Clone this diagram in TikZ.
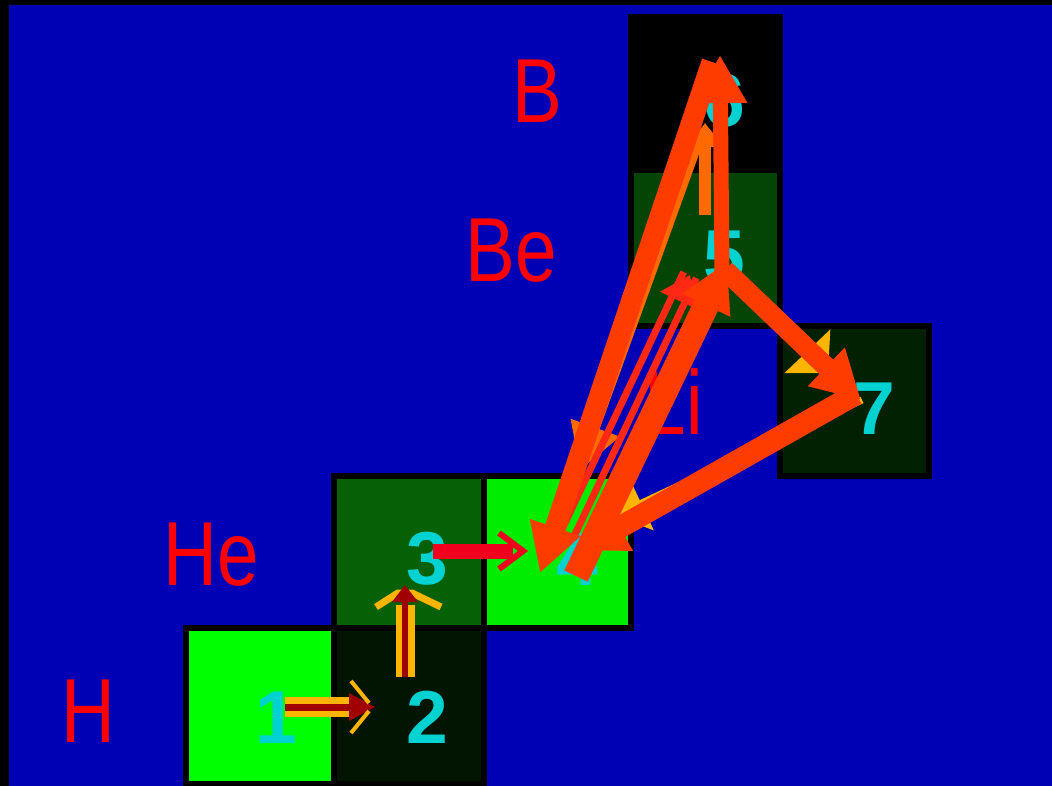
\documentclass[tikz,border=0pt]{standalone}
\usepackage{fontspec}
\setmainfont{Liberation Sans}
\usetikzlibrary{arrows.meta,calc}
\definecolor{bg}{HTML}{0000B4}
\definecolor{gbright}{HTML}{00FF00}
\definecolor{gbrighttwo}{HTML}{00EC00}
\definecolor{gdark}{HTML}{021402}
\definecolor{gmid}{HTML}{066006}
\definecolor{gbe}{HTML}{044404}
\definecolor{gseven}{HTML}{022002}
\definecolor{cyanc}{HTML}{00D2D2}
\definecolor{redl}{HTML}{FF0000}
\definecolor{bigarrow}{HTML}{FF3C00}
\definecolor{yel}{HTML}{FFB400}
\definecolor{dred}{HTML}{A00000}
\definecolor{orng}{HTML}{FF6A00}
\definecolor{redst}{HTML}{FF2814}
\definecolor{redar}{HTML}{F0001C}
\begin{document}
\begin{tikzpicture}[x=1pt,y=-1pt,
  cell/.style={draw=black, line width=6pt, inner sep=0pt, outer sep=0pt},
  elem/.style={text=redl, font=\fontsize{91}{91}\selectfont, anchor=base, inner sep=0pt, xscale=0.82},
  num/.style={text=cyanc, font=\bfseries\fontsize{75}{75}\selectfont, anchor=base, inner sep=0pt},
  big/.style={draw=bigarrow, -{Triangle[length=48pt,width=50pt]}},
  stair/.style={line width=7pt},
]
\useasboundingbox (0,0) rectangle (1052,786);
\fill[black] (0,0) rectangle (1052,786);
\fill[bg] (9,5) rectangle (1052,786);

% cells
\node[fill=black, minimum width=155pt, minimum height=159pt, inner sep=0pt] (c6) at (705.5,93.5) {};
\node[cell, fill=gbe, minimum width=149pt, minimum height=155.5pt] (c5) at (705.5,247.75) {};
\node[cell, fill=gseven, minimum width=149pt, minimum height=149.5pt] (c7) at (854.5,400.75) {};
\node[cell, fill=gbright, minimum width=148pt, minimum height=155.5pt] (c1) at (259.5,705.75) {};
\node[cell, fill=gdark, minimum width=150pt, minimum height=155.5pt] (c2) at (408.5,705.75) {};
\node[cell, fill=gmid, minimum width=150pt, minimum height=152pt] (c3) at (408.5,551.5) {};
\node[cell, fill=gbrighttwo, minimum width=147pt, minimum height=152pt] (c4) at (557,551.5) {};

% element labels
\node[elem] (lH) at (88,742) {H};
\node[elem] (lHe) at (211,585) {He};
\node[elem] (lLi) at (674,434) {Li};
\node[elem] (lBe) at (511,282) {Be};
\node[elem] (lB) at (537,123) {B};

% digits
\node[num] (d1) at (276,743) {1};
\node[num] (d2) at (427,743) {2};
\node[num] (d3) at (427,584) {3};
\node[num] (d4) at (577,585) {4};
\node[num] (d5) at (724,283) {5};
\node[num] (d6) at (724,127) {6};
\node[num] (d7) at (874,434) {7};

% small arrow 1 -> 2
\coordinate (s1) at (285,707);
\coordinate (s2) at (375,707);
\draw[yel, line width=20pt] (s1) -- ($(s2)+(-22,0)$);
\draw[dred, line width=7pt] (s1) -- ($(s2)+(-12,0)$);
\fill[dred] ($(s2)+(-26,-14)$) -- (s2) -- ($(s2)+(-26,14)$) -- cycle;
\draw[yel, line width=4pt] ($(s2)+(-24,-26)$) -- ($(s2)+(-6,-4)$);
\draw[yel, line width=4pt] ($(s2)+(-24,26)$) -- ($(s2)+(-6,4)$);

% small arrow 2 -> 3
\coordinate (t2) at (405,677);
\coordinate (t3) at (405,585);
\draw[yel, line width=19pt] (t2) -- ($(t3)+(0,20)$);
\draw[yel, line width=7pt] ($(t3)+(-29,22)$) -- ($(t3)+(-7,8)$) -- ($(t3)+(7,8)$) -- ($(t3)+(36,22)$);
\draw[dred, line width=6pt] (t2) -- ($(t3)+(0,10)$);
\fill[dred] ($(t3)+(-13,17)$) -- (t3) -- ($(t3)+(13,17)$) -- cycle;

% small arrow 3 -> 4
\coordinate (u3) at (433,551);
\coordinate (u4) at (523,551);
\draw[redar, line width=15pt] (u3) -- ($(u4)+(-10,0)$);
\draw[redar, line width=6pt] ($(u4)+(-24,-18)$) -- (u4) -- ($(u4)+(-24,18)$);

% orange 5 -> 6
\coordinate (o5) at (705,215);
\coordinate (o6) at (705,123);
\draw[orng, line width=12pt, -{Triangle[length=24pt,width=36pt]}] (o5) -- (o6);

% stair connectors
\coordinate (st6) at (703,130);
\coordinate (st4) at (580,470);
\draw[orng, line width=9pt, -{Triangle[length=45pt,width=50pt]}] (st6) -- (st4);

\coordinate (r4) at (567,535);
\coordinate (r5) at (690,275);
\draw[redst, line width=7pt] ($(r4)!7pt!90:(r5)$) -- ($(r5)!7pt!-90:(r4)$);
\draw[redst, line width=7pt] ($(r4)!7pt!-90:(r5)$) -- ($(r5)!7pt!90:(r4)$);
\coordinate (rb) at ($(r5)!28pt!(r4)$);
\fill[redst] (r5) -- ($(rb)!20pt!90:(r5)$) -- ($(rb)!20pt!-90:(r5)$) -- cycle;

\coordinate (y5) at (728,268);
\coordinate (y7) at (828,373);
\draw[yel, stair, -{Triangle[length=30pt,width=62pt]}] (y5) -- (y7);

\coordinate (y7b) at (862,400);
\coordinate (y4) at (614,516);
\draw[yel, stair, -{Triangle[length=30pt,width=58pt]}] (y7b) -- (y4);

% big arrows
\coordinate (a5) at (722,272);
\coordinate (a6) at (720,55);
\coordinate (b6) at (712,62);
\coordinate (b4) at (540,573);
\coordinate (cs) at (576,576);
\coordinate (ct) at (727,262);
\coordinate (ds) at (725,270);
\coordinate (dt) at (861,400);
\coordinate (es) at (856,394);
\coordinate (et) at (578,551);
\draw[big, line width=15pt] (a5) -- (a6);
\draw[big, line width=21pt] (b6) -- (b4);
\draw[big, line width=26pt] (cs) -- (ct);
\draw[big, line width=20pt] (ds) -- (dt);
\draw[big, line width=22pt] (es) -- (et);
\end{tikzpicture}
\end{document}
